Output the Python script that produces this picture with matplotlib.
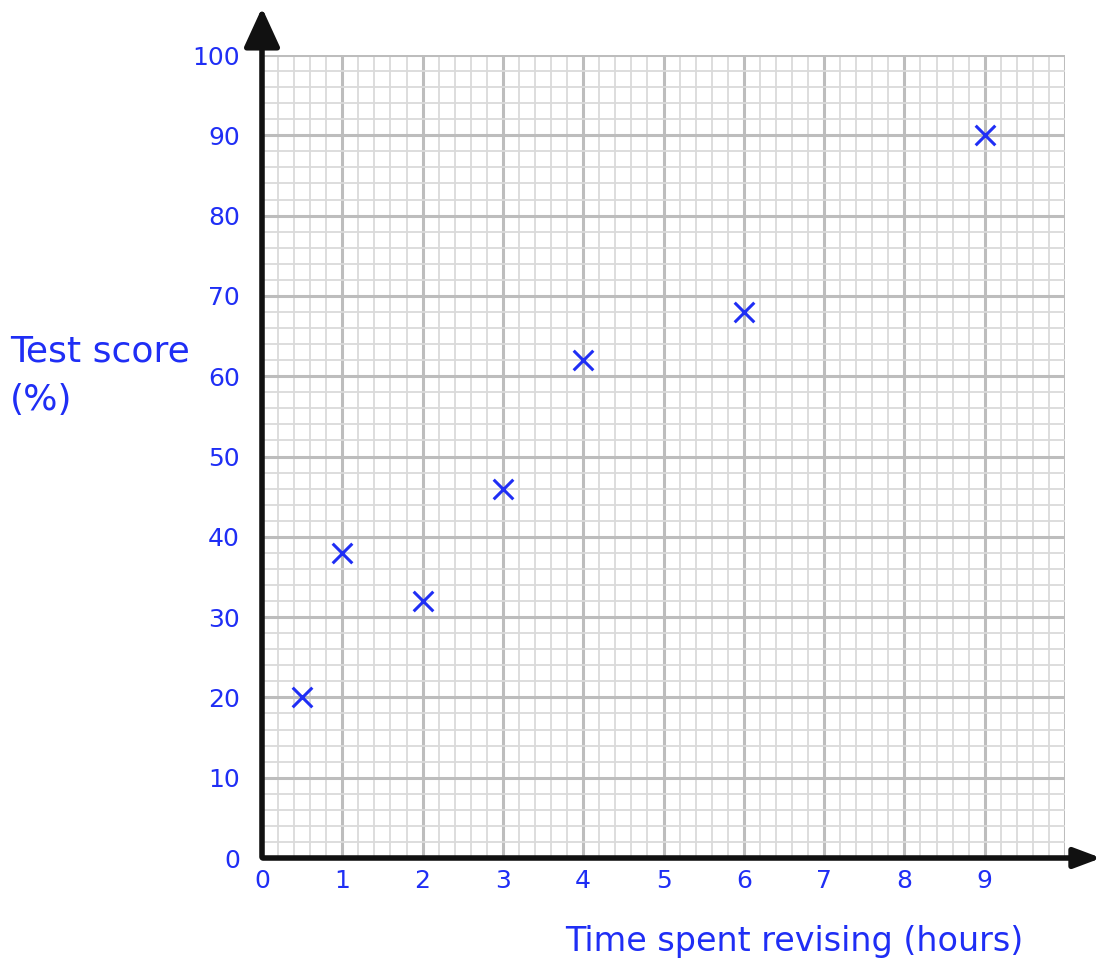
import matplotlib
matplotlib.use("Agg")
import matplotlib.pyplot as plt
import numpy as np

hours = [0.5, 1, 2, 3, 4, 6, 9]
scores = [20, 38, 32, 46, 62, 68, 90]
x_ticks = [0, 1, 2, 3, 4, 5, 6, 7, 8, 9]
y_ticks = [0, 10, 20, 30, 40, 50, 60, 70, 80, 90, 100]

BLUE = "#1f2ef5"
fig = plt.figure(figsize=(11.05, 9.66), dpi=100)
L, B, W, H = 262/1105, (966-858)/966, 803/1105, 803/966
ax = fig.add_axes([L, B, W, H])
ax.set_xlim(0, 10)
ax.set_ylim(0, 100)

# grid
for v in np.arange(0, 10.01, 0.2):
    major = abs(v - round(v)) < 1e-6
    ax.axvline(v, color="#bdbdbd" if major else "#dadada", lw=2.2 if major else 1.3, zorder=1)
for v in np.arange(0, 100.01, 2):
    major = abs(v/10 - round(v/10)) < 1e-6
    ax.axhline(v, color="#bdbdbd" if major else "#dadada", lw=2.2 if major else 1.3, zorder=1)

for s in ax.spines.values():
    s.set_visible(False)
ax.set_xticks(x_ticks)
ax.set_yticks(y_ticks)
ax.set_xticklabels([str(t) for t in x_ticks], color=BLUE, fontsize=18, fontweight="medium")
ax.set_yticklabels([str(t) for t in y_ticks], color=BLUE, fontsize=18, fontweight="medium")
ax.tick_params(axis="x", length=0, pad=8)
ax.tick_params(axis="y", length=0, pad=16)

ax.scatter(hours, scores, marker="x", s=200, color=BLUE, linewidths=2.2, zorder=5)

# axes arrows
fig.patches.append(matplotlib.patches.FancyArrowPatch(
    (262/1105, (966-860)/966), (262/1105, (966-5)/966), transform=fig.transFigure,
    arrowstyle="-|>,head_length=1.2,head_width=0.55", mutation_scale=20, lw=4, color="#111111"))
fig.patches.append(matplotlib.patches.FancyArrowPatch(
    (260/1105, (966-858)/966), (1104/1105, (966-858)/966), transform=fig.transFigure,
    arrowstyle="-|>,head_length=0.8,head_width=0.3", mutation_scale=20, lw=4, color="#111111"))

fig.text(10/1105, 1 - 376/966, "Test score\n(%)", color=BLUE, fontsize=26,
         ha="left", va="center", linespacing=1.55, fontweight="medium")
fig.text(794/1105, 1 - 942/966, "Time spent revising (hours)", color=BLUE, fontsize=24,
         ha="center", va="center", fontweight="medium")

fig.savefig("out.png", dpi=100)
